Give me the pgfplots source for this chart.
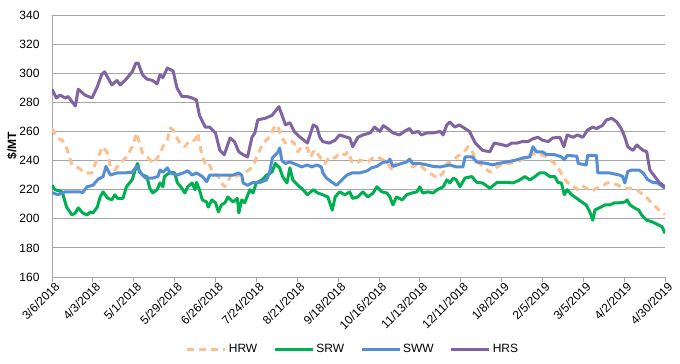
\documentclass[border=0pt]{standalone}
\usepackage{pgfplots}
\pgfplotsset{compat=1.18}
\usepackage{fontspec}
\setmainfont{Liberation Sans}
\definecolor{hrw}{HTML}{FAC090}
\definecolor{srw}{HTML}{00B050}
\definecolor{sww}{HTML}{558ED5}
\definecolor{hrs}{HTML}{8064A2}
\definecolor{gridc}{HTML}{A6A6A6}
\begin{document}
\begin{tikzpicture}
\begin{axis}[
  at={(0,0)}, anchor=south west,
  scale only axis, width=613pt, height=262pt,
  xmin=0, xmax=420, ymin=160, ymax=340,
  xtick={0,28,...,420},
  xticklabels={3/6/2018,4/3/2018,5/1/2018,5/29/2018,6/26/2018,7/24/2018,8/21/2018,9/18/2018,10/16/2018,11/13/2018,12/11/2018,1/8/2019,2/5/2019,3/5/2019,4/2/2019,4/30/2019},
  ytick={160,180,...,340},
  /pgf/number format/assume math mode=true,
  tick label style={font=\fontsize{12}{14}\selectfont},
  x tick label style={rotate=45, anchor=north east, inner sep=1pt, xshift=3pt},
  y tick label style={xshift=-4pt},
  axis x line*=bottom, axis y line*=left,
  axis line style={gridc, line width=0.8pt, -},
  ymajorgrids, grid style={gridc, line width=0.8pt},
  xtick style={gridc, line width=0.8pt},
  major tick length=5pt,
  xtick pos=bottom, tick align=outside,
  ytick style={draw=none},
  ylabel={\textbf{\$/MT}},
  ylabel style={at={(axis description cs:-0.065,0.5)}, anchor=center, font=\fontsize{12}{14}\selectfont},
  legend style={at={(0.491,-0.275)}, anchor=center, legend columns=4, draw=none, fill=none,
    font=\fontsize{12}{14}\selectfont,
    /tikz/every even column/.append style={column sep=14pt}},
  legend image code/.code={\draw[#1] (0pt,0pt) -- (38pt,0pt);},
  every axis plot/.append style={line width=3pt, line join=round, no markers},
]
\addplot[hrw, dash pattern=on 7pt off 5pt] coordinates {
(0,262) (3.4,255.5) (7,254) (10,248.6) (13.7,237) (18,235) (22.6,231.5) (27.4,231.5) (31,241.8) (35,249.5) (38,245.2) (40,235.6) (43,233.5) (46.6,238) (51,242.5) (55,249.5) (58,259) (60,252) (62,245.2) (66,241.8) (69,238) (72.6,242.5) (76,249.5) (79,254) (81,262.4) (83,261) (85.6,255.5) (87.7,252) (91,249.5) (94.5,254) (98,254) (100,259) (101,252) (103,242.5) (106,235.6) (108,237) (110,232) (114,229) (116,224.6) (118.5,222) (121,226.7) (123,231) (125,229) (128,230) (131.5,231.5) (135,233.5) (138,237) (141,244) (144.5,252) (149,256) (153,264.5) (155,262.4) (157.5,255.5) (160,252) (163,254) (166,252) (168.5,246) (171,249.5) (175,248.6) (177,242.5) (180,247.3) (183.5,242.5) (187,238) (190,242.5) (194,241.8) (197,245.2) (200.7,244) (203,246) (205.5,239) (209,238) (211,240.4) (216,239) (220,241.8) (223,242.5) (227,240.4) (230,238) (233,233.5) (235,238) (238,237) (242,239) (245,240.4) (247,235.6) (251,238) (254,235) (257.5,232) (261,230) (264,228) (268,231.5) (270.5,238) (274.7,240) (278,243) (282,245.5) (285,249.5) (287.7,247.3) (290,240.4) (293,238) (296.6,235) (300,232) (305,235.6) (309,238) (313.7,238) (318.5,239) (322.6,241) (327.4,244) (332,245.2) (335.6,244) (339,242.5) (341,240.4) (344.5,238) (346.6,235.6) (350,229) (353,225) (357,222.5) (360,220) (363,223) (366,221) (370,219) (373,221) (377,222) (380,224.6) (384,224.6) (389,222.5) (392.5,220.5) (396,221) (400.7,220) (405,216.5) (407.5,214.5) (411.6,210) (416,206) (418.5,204) (420,203)
};
\addlegendentry{HRW}
\addplot[srw] coordinates {
(0,223) (2,220) (7,218.5) (10,208) (13.7,202.6) (16,204) (18,207.5) (21,204) (24,202.6) (26,204.7) (28,204) (31,208) (33,215) (35,218.5) (38,214.3) (41,213) (43,216.5) (45,214) (48.6,214) (51,222) (55,227) (57,233.5) (58.6,238) (60,232) (62,230) (65,229) (67,221) (69,217.7) (72,220) (74,224.6) (76,222) (77,229) (81,232) (84,231.5) (86,224.6) (89,221) (91,217.7) (93,222) (96,224.6) (98,220) (99,225) (101,220) (103,213) (106,211.5) (107,208) (109.6,213) (112,211) (114,204.7) (116,209.5) (118.5,211) (120.5,215) (124,211.5) (127,214) (128,204) (130,213) (132,211) (135.6,220) (137.7,217.7) (140,224.6) (144,226.7) (147,230) (150.7,232) (153,238) (156,235) (158,229) (161,224.6) (163,235) (165,226.7) (168.5,223) (172,220) (175,216.5) (179,220) (182,217.7) (185.6,216.5) (189,215) (192,206) (194,215) (197,218.5) (200.7,216.5) (204,218.5) (206,214) (209.6,215) (213,218.5) (216.4,215) (220,217.7) (222.6,222) (226,218.5) (229.5,217.7) (231.5,215) (233.6,209.5) (236,215) (240,213) (243,216.5) (246.6,217.7) (250,218.5) (252,222) (254,217.7) (257.5,218.5) (261,217.7) (264,220) (268,222) (270.5,226.7) (272.6,224.6) (275,228) (277,226.7) (279.5,222) (283,228) (287.7,229) (291,225) (295,224.6) (300,221) (305,225) (309,225) (312,225) (315.8,224.6) (320.5,226.7) (324,229) (327.4,226.7) (331,229) (334,231.5) (337.7,231.5) (341,229) (344.5,229) (346.6,225) (349,224.6) (351,216.5) (353,220) (356,216.5) (359.6,214) (363,211.5) (366,209.5) (368.5,204.7) (370.5,199) (372,206) (375,207.5) (378.8,209.5) (382,209.5) (385.6,211) (389,211) (392.5,211.5) (394,213) (396,209.5) (399,207.5) (402,206) (404,202.6) (407.5,199) (411,198) (414,196.5) (418,194.5) (420,190)
};
\addlegendentry{SRW}
\addplot[sww] coordinates {
(0,218) (4,216.5) (9,218.5) (13.7,218.5) (19,218.5) (21,218) (24,222) (28,223) (31.5,227) (35,229) (37,236) (40,230) (44.5,231.5) (50,231.5) (55,232) (58,236) (62,230) (64,228) (69,228) (72.6,229) (74,233.5) (76,232) (79,235) (81,231.5) (85.6,230) (90,231.5) (93,233) (96,230) (99,231.5) (103,229) (106,225.5) (108,230) (113,230) (120,230) (124,230) (128,231.5) (130,230) (131,224.6) (134,223) (137.7,225) (142.5,225) (147,226.7) (149,231.5) (151,241.8) (155,246) (156,248.6) (157.5,240) (160,238) (163,239) (168,237) (171,235.6) (175,237) (178,235.6) (181.5,237) (184.5,235.6) (185.6,231.5) (188,228) (192,225) (195,223) (198.6,226.7) (202,230) (205.5,231.5) (211,231.5) (216,233) (219,235) (222.6,236) (227,239) (230,239) (231.5,241) (233.6,236) (238,237.5) (243,239) (245,241) (247,238) (252,238) (257,237) (261,236) (266,235.6) (272.6,237) (277,235.6) (281.5,235.6) (283,242.5) (288,242.5) (291,239) (298,238) (302,237) (305.5,238) (311.6,239) (318.5,240.5) (322.6,241.8) (327.4,242.5) (329.5,249.5) (332,246) (336,246) (339,244) (344.5,244) (349,242.5) (351,240.5) (353,243.5) (359.6,243) (360.5,238) (366,237) (367,243.5) (373,243.5) (374,231.5) (382,231.5) (389,230) (391,229) (392.5,224.6) (394.5,232.5) (397,233.5) (402,233.5) (405,231.5) (408,227) (411.6,225) (415,224.6) (418.5,222) (420,221)
};
\addlegendentry{SWW}
\addplot[hrs] coordinates {
(0,289) (3,283) (5.5,285) (9,283) (11,284) (16,277.5) (18,289) (22.6,285) (27.4,283) (31,290.6) (34,299) (36,301) (41,292) (44.5,295) (46.6,292) (50,295) (55,301) (57.5,307) (59,307) (62,299) (65,296) (69,295) (72,292.6) (74,299) (76,297) (79,303.6) (83,301.5) (85.6,290) (89,284) (92.5,284) (96,283) (99,281.6) (101,271) (105,263) (108,263) (112,259) (115,247) (118,244) (122,255.5) (125,253) (128,246) (131,244) (134,242.5) (137,256) (139,259) (141,268) (146,269) (150.7,271) (155.5,277) (160,264.5) (163,266) (166,260) (170,256) (175,252) (179,264.5) (181.5,263) (183.5,256) (185.6,253) (190,252) (194,254) (197,257.6) (202,256) (204,255.5) (206,249.5) (209.6,256) (213,257.6) (218,259) (221,263) (224.7,260) (227,264) (230,262) (233.6,259) (238,257.6) (243,261) (245,262) (247,259) (251,260) (253,257.6) (257,259) (261,259) (266,260) (268,257.6) (270.5,264.5) (272.6,266.5) (276,263) (279,264.5) (283,262) (286,260) (290,252) (292.5,249.5) (295,247) (300,246) (303,252) (308,251) (311.6,250) (315,252) (318.5,252) (322,253) (326,253) (329.5,255) (333,256) (336,254) (340,253) (343,255.5) (348,256) (350.7,249.5) (353,257.6) (357,256) (360,257.6) (363.7,256) (367,261) (370.5,263) (373,262) (377,264) (380,268) (383.6,269) (387,266.5) (390,262) (392.5,256) (394.5,249.5) (398,247) (400.7,250.7) (402,249.5) (405,247) (407.5,246) (409.6,233.5) (413,229) (416,225) (420,222)
};
\addlegendentry{HRS}
\end{axis}
\pgfresetboundingbox
\path[use as bounding box] (-52pt,-87pt) rectangle (628pt,277pt);
\end{tikzpicture}
\end{document}
